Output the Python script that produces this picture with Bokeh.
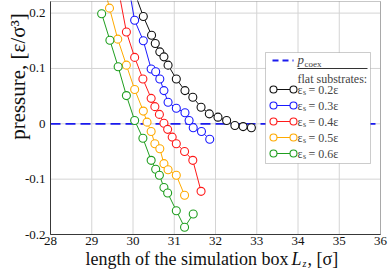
import math
from bokeh.plotting import figure
from bokeh.models import Label, BoxAnnotation, FixedTicker, CustomJSTickFormatter, Range1d, LinearAxis
from bokeh.embed import file_html
from bokeh.resources import INLINE

# ---------------- data ----------------
x_ticks = [28, 29, 30, 31, 32, 33, 34, 35, 36]
y_ticks = [-0.2, -0.1, 0.0, 0.1, 0.2]
p_coex = 0.0

black_x = [30.05, 30.25, 30.45, 30.54, 30.65, 30.75, 30.85, 31.05, 31.26, 31.45, 31.65, 31.85, 32.06, 32.27, 32.47, 32.67, 32.87]
black_y = [0.235, 0.194, 0.160, 0.145, 0.130, 0.121, 0.106, 0.081, 0.060, 0.048, 0.030, 0.018, 0.012, 0.006, -0.003, -0.005, -0.007]

blue_x = [29.84, 30.04, 30.25, 30.44, 30.55, 30.65, 30.75, 30.85, 31.05, 31.26, 31.36, 31.46, 31.66, 31.86]
blue_y = [0.270, 0.187, 0.150, 0.099, 0.094, 0.081, 0.060, 0.039, 0.028, 0.020, 0.006, -0.007, -0.014, -0.028]

red_x = [29.64, 29.84, 30.04, 30.24, 30.44, 30.53, 30.64, 30.75, 30.84, 30.95, 31.05, 31.25, 31.45, 31.65]
red_y = [0.245, 0.166, 0.120, 0.081, 0.046, 0.031, 0.017, 0.001, -0.010, -0.024, -0.036, -0.050, -0.066, -0.122]

orange_x = [29.23, 29.43, 29.63, 29.84, 30.04, 30.25, 30.34, 30.44, 30.53, 30.65, 30.75, 30.85, 31.05, 31.25]
orange_y = [0.270, 0.209, 0.153, 0.106, 0.062, 0.023, 0.003, -0.014, -0.036, -0.045, -0.072, -0.083, -0.093, -0.129]

green_x = [29.24, 29.44, 29.64, 29.84, 30.04, 30.24, 30.44, 30.55, 30.64, 30.75, 30.84, 31.05, 31.25, 31.46]
green_y = [0.199, 0.151, 0.103, 0.051, 0.006, -0.026, -0.066, -0.082, -0.093, -0.115, -0.125, -0.157, -0.187, -0.163]

series_labels = ["0.2", "0.3", "0.4", "0.5", "0.6"]
series_colors = ["#111111", "#1a1aff", "#ff1a1a", "#ffaa00", "#1f9e1f"]
series_x = [black_x, blue_x, red_x, orange_x, green_x]
series_y = [black_y, blue_y, red_y, orange_y, green_y]

# ---------------- geometry ----------------
XMIN, XMAX = 28.0, 36.0
YMIN, YMAX = -0.2, 0.221
W, H = 390, 273
BOX_L, BOX_R, BOX_T, BOX_B = 50, 380, 1, 234  # plot box in canvas px
SX = (BOX_R - BOX_L) / (XMAX - XMIN)
SY = (BOX_B - BOX_T) / (YMAX - YMIN)

x_range = Range1d(XMIN - BOX_L / SX, XMAX + (W - BOX_R) / SX)
y_range = Range1d(YMIN - (H - BOX_B) / SY, YMAX + BOX_T / SY)


def fx(px):
    return XMIN + (px - BOX_L) / SX


def fy(py):
    return YMAX - (py - BOX_T) / SY


p = figure(width=W, height=H, output_backend="svg", toolbar_location=None,
           x_range=x_range, y_range=y_range,
           x_axis_location=None, y_axis_location=None,
           min_border_left=0, min_border_right=0, min_border_top=0, min_border_bottom=0)
p.background_fill_color = "white"
p.border_fill_color = "white"
p.outline_line_color = None
p.grid.visible = False

FONT = "Liberation Serif"
xaxis = LinearAxis(fixed_location=YMIN, bounds=(XMIN, XMAX))
yaxis = LinearAxis(fixed_location=XMIN, bounds=(YMIN, YMAX))
for ax in (xaxis, yaxis):
    ax.major_tick_in = 0
    ax.major_tick_out = 0
    ax.minor_tick_in = 0
    ax.minor_tick_out = 0
    ax.axis_line_color = "#333333"
    ax.major_label_text_font = FONT
    ax.major_label_text_font_size = "13px"
    ax.major_label_text_color = "#111111"
xaxis.major_label_standoff = 2
yaxis.major_label_standoff = 5
xaxis.ticker = FixedTicker(ticks=x_ticks)
yaxis.ticker = FixedTicker(ticks=y_ticks)
yaxis.formatter = CustomJSTickFormatter(code="return Math.abs(tick) < 1e-9 ? '0' : tick.toFixed(1);")
xaxis.formatter = CustomJSTickFormatter(code="return tick.toFixed(0);")
p.add_layout(xaxis, "below")
p.add_layout(yaxis, "left")

# grid lines drawn from the tick arrays
g = p.segment(x0=x_ticks, y0=[YMIN] * len(x_ticks), x1=x_ticks, y1=[YMAX] * len(x_ticks),
              line_color="#d4d4d4", line_width=1)
g.level = "underlay"
g = p.segment(x0=[XMIN] * len(y_ticks), y0=y_ticks, x1=[XMAX] * len(y_ticks), y1=y_ticks,
              line_color="#d4d4d4", line_width=1)
g.level = "underlay"

# coexistence pressure
p.line([XMIN, XMAX], [p_coex, p_coex], line_color="#1a1aee", line_width=1.8, line_dash="10 5")

for xs, ys, c in zip(series_x, series_y, series_colors):
    p.line(xs, ys, line_color=c, line_width=1)
    p.scatter(xs, ys, marker="circle", size=8, fill_color="white", line_color=c, line_width=1.1)

# plot box outline
p.add_layout(BoxAnnotation(left=XMIN, right=XMAX, top=YMAX, bottom=YMIN,
                           fill_alpha=0, line_color="#444444", line_width=1, level="annotation"))

# ---------------- legend ----------------
p.add_layout(BoxAnnotation(left=fx(265), right=fx(370), top=fy(52), bottom=fy(163),
                           fill_color="white", fill_alpha=1.0, line_color="#555555",
                           line_width=1, level="annotation"))

r = p.line([fx(272), fx(293)], [fy(60), fy(60)], line_color="#1a1aee", line_width=1.8, line_dash="6 4")
r.level = "overlay"
p.add_layout(Label(x=fx(297), y=fy(59), text="p", text_font=FONT, text_font_style="italic",
                   text_font_size="13px", text_baseline="middle", level="overlay"))
p.add_layout(Label(x=fx(304), y=fy(63), text="coex", text_font=FONT,
                   text_font_size="9px", text_baseline="middle", level="overlay"))
r = p.line([fx(297), fx(367)], [fy(68), fy(68)], line_color="#333333", line_width=1)
r.level = "overlay"
p.add_layout(Label(x=fx(297), y=fy(78), text="flat substrates:", text_font=FONT,
                   text_font_size="12px", text_baseline="middle", level="overlay"))

row_y = [89, 105, 121, 137, 153]
for lab, c, ry in zip(series_labels, series_colors, row_y):
    r = p.line([fx(273), fx(293)], [fy(ry), fy(ry)], line_color=c, line_width=1)
    r.level = "overlay"
    r = p.scatter([fx(273), fx(293)], [fy(ry), fy(ry)], marker="circle", size=7,
                  fill_color="white", line_color=c, line_width=1.1)
    r.level = "overlay"
    p.add_layout(Label(x=fx(297), y=fy(ry), text="ε", text_font=FONT,
                       text_font_size="12px", text_baseline="middle", level="overlay"))
    p.add_layout(Label(x=fx(302.5), y=fy(ry + 3), text="s", text_font=FONT,
                       text_font_size="8px", text_baseline="middle", level="overlay"))
    p.add_layout(Label(x=fx(308), y=fy(ry), text="= " + lab + "ε", text_font=FONT,
                       text_font_size="12px", text_baseline="middle", level="overlay"))

# ---------------- axis titles ----------------
p.add_layout(Label(x=fx(85), y=fy(258), text="length of the simulation box", text_font=FONT,
                   text_font_size="18px", text_baseline="middle", text_color="#111111"))
p.add_layout(Label(x=fx(291), y=fy(258), text="L", text_font=FONT, text_font_style="italic",
                   text_font_size="18px", text_baseline="middle", text_color="#111111"))
p.add_layout(Label(x=fx(302), y=fy(263), text="z", text_font=FONT, text_font_style="italic",
                   text_font_size="10px", text_baseline="middle", text_color="#111111"))
p.add_layout(Label(x=fx(307), y=fy(258), text=", [σ]", text_font=FONT,
                   text_font_size="18px", text_baseline="middle", text_color="#111111"))

p.add_layout(Label(x=fx(17), y=fy(76), text="pressure, [ε/σ³]", text_font=FONT,
                   text_font_size="21px", text_baseline="middle", text_align="center",
                   angle=math.pi / 2, text_color="#111111"))

open("out.html", "w").write(file_html(p, INLINE))
